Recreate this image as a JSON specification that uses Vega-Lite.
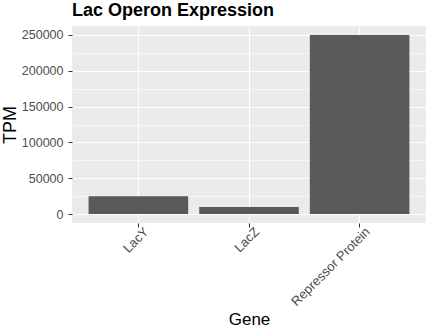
{
  "$schema": "https://vega.github.io/schema/vega-lite/v6.json",
  "width": 354,
  "height": 197,
  "autosize": {"type": "none"},
  "padding": {"left": 72, "top": 26, "right": 5, "bottom": 112},
  "background": "white",
  "title": {
    "text": "Lac Operon Expression",
    "anchor": "start",
    "frame": "group",
    "font": "Liberation Sans",
    "fontSize": 18,
    "fontWeight": "bold",
    "color": "black",
    "offset": 6
  },
  "data": {
    "values": [
      {"Gene": "LacY", "TPM": 25000},
      {"Gene": "LacZ", "TPM": 10000},
      {"Gene": "Repressor Protein", "TPM": 250000}
    ]
  },
  "mark": {"type": "bar", "color": "#595959"},
  "encoding": {
    "x": {
      "field": "Gene",
      "type": "nominal",
      "scale": {"paddingInner": 0.1, "paddingOuter": 0.15},
      "axis": {
        "title": "Gene",
        "labelAngle": -45,
        "labelAlign": "right",
        "labelBaseline": "top",
        "labelOffset": 4,
        "bandPosition": 0.5,
        "grid": true,
        "gridColor": "white",
        "gridWidth": 1.1,
        "domain": false,
        "tickColor": "#333333",
        "tickSize": 4,
        "labelPadding": -2,
        "labelFont": "Liberation Sans",
        "labelFontSize": 13,
        "labelColor": "#4D4D4D",
        "titleFont": "Liberation Sans",
        "titleFontSize": 17,
        "titleFontWeight": "normal",
        "titleColor": "black",
        "titlePadding": 3
      }
    },
    "y": {
      "field": "TPM",
      "type": "quantitative",
      "scale": {"domain": [-12500, 262500], "nice": false, "zero": false},
      "axis": {
        "title": "TPM",
        "values": [0, 25000, 50000, 75000, 100000, 125000, 150000, 175000, 200000, 225000, 250000],
        "labelExpr": "datum.value % 50000 === 0 ? datum.label : ''",
        "format": "d",
        "grid": true,
        "gridColor": "white",
        "gridWidth": {"condition": {"test": "datum.value % 50000 === 0", "value": 1.1}, "value": 0.55},
        "tickOpacity": {"condition": {"test": "datum.value % 50000 === 0", "value": 1}, "value": 0},
        "domain": false,
        "tickColor": "#333333",
        "tickSize": 4,
        "labelPadding": 5,
        "labelFont": "Liberation Sans",
        "labelFontSize": 12.5,
        "labelColor": "#4D4D4D",
        "titleFont": "Liberation Sans",
        "titleFontSize": 18,
        "titleFontWeight": "normal",
        "titleColor": "black",
        "titlePadding": 2
      }
    },
    "y2": {"datum": 0}
  },
  "config": {
    "view": {"fill": "#EBEBEB", "stroke": null}
  }
}
